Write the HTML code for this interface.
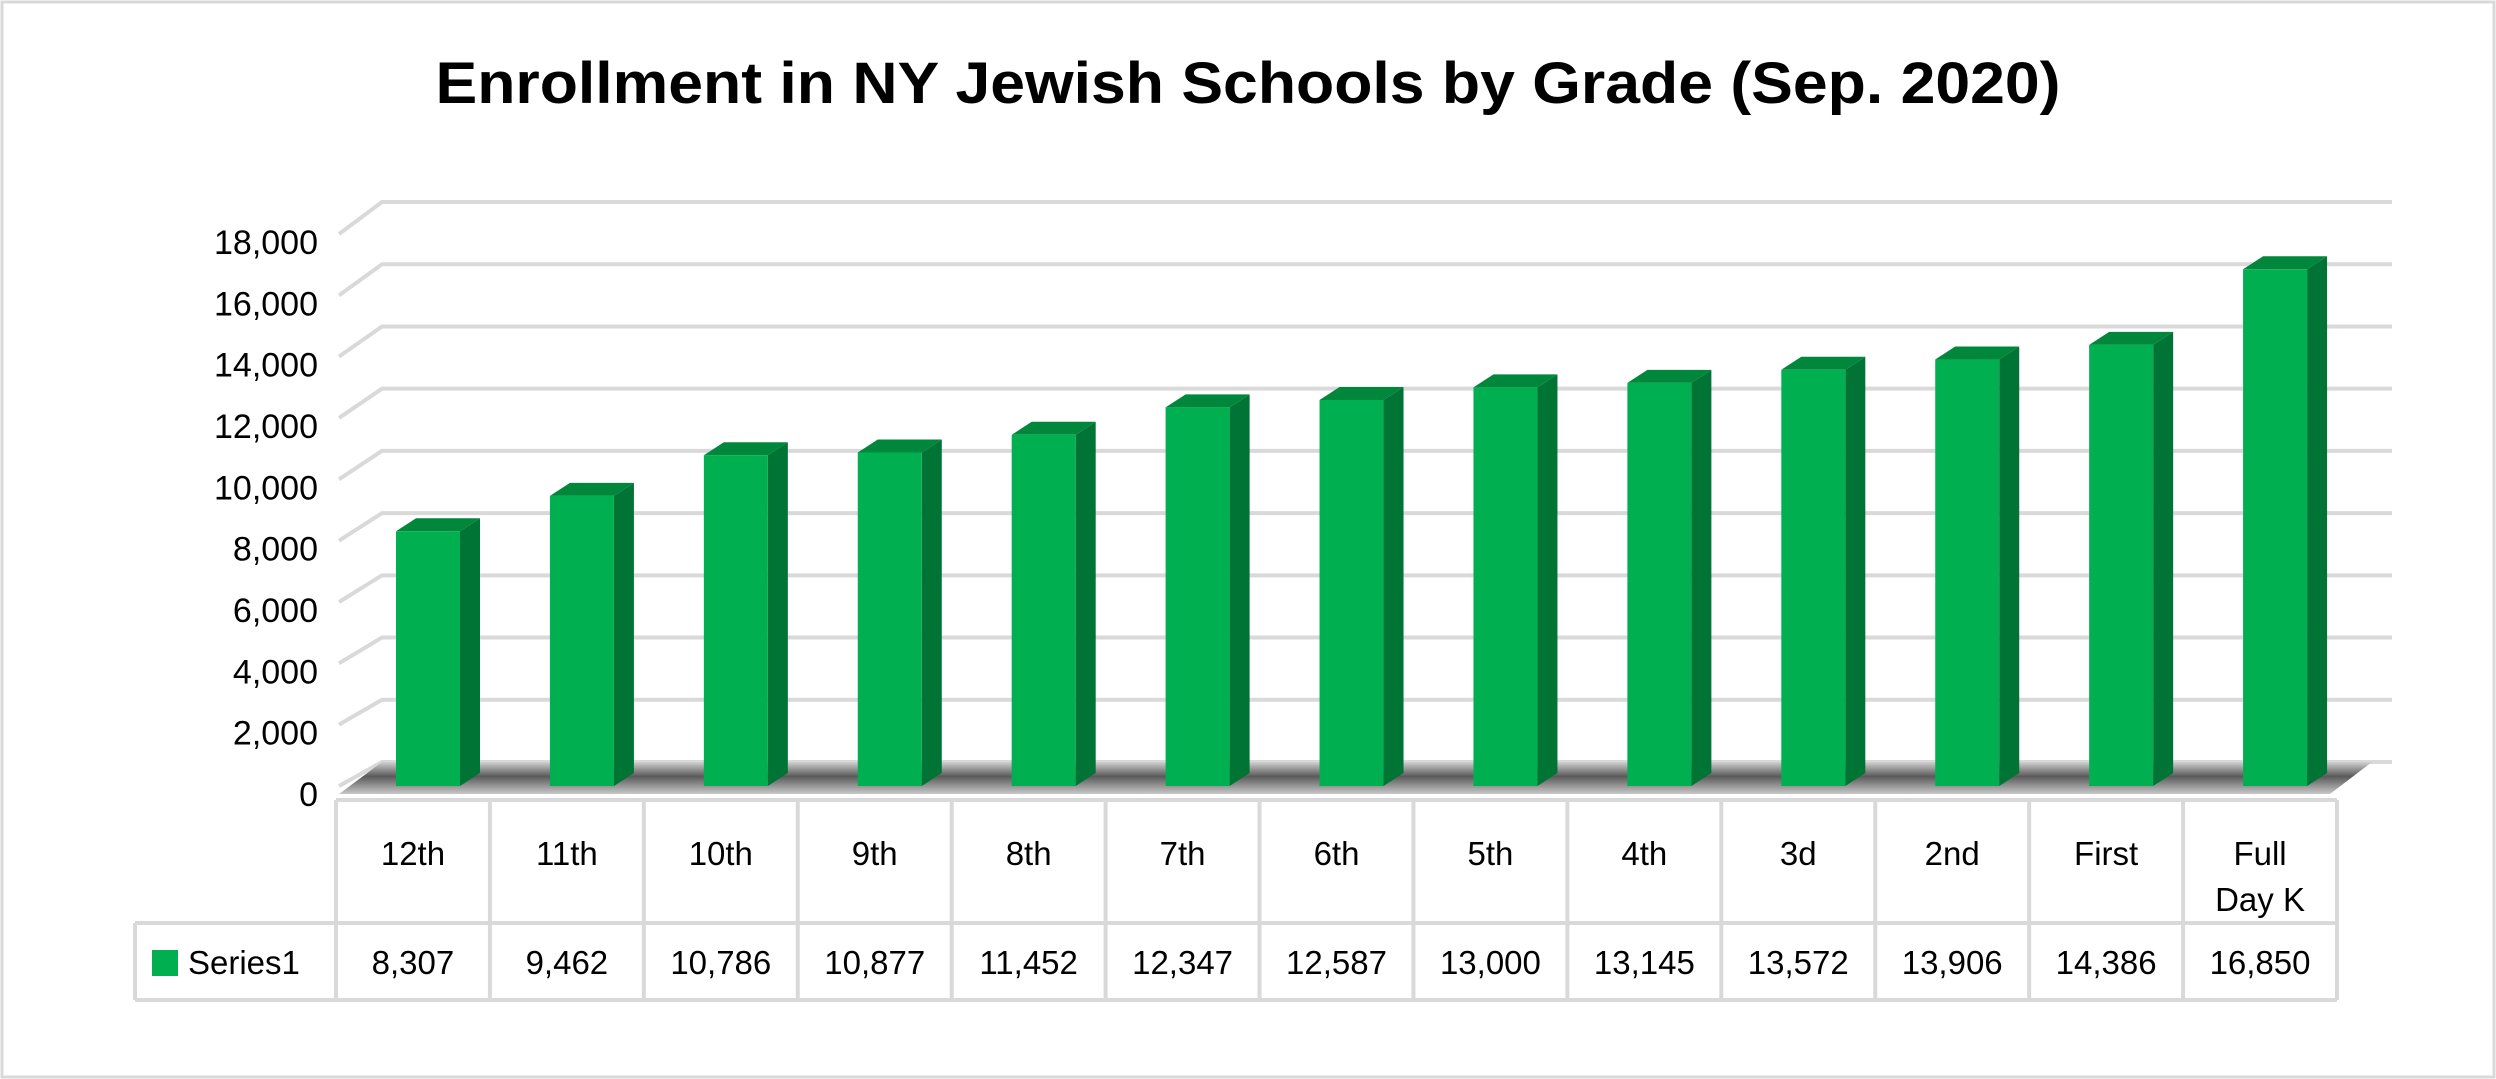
<!DOCTYPE html>
<html><head><meta charset="utf-8"><style>
html,body{margin:0;padding:0;background:#fff;}
svg{display:block;font-family:"Liberation Sans",sans-serif;}
</style></head><body>
<svg id="chart" width="2496" height="1079" viewBox="0 0 2496 1079" xmlns="http://www.w3.org/2000/svg">
<defs>
<linearGradient id="floorGrad" x1="0" y1="0" x2="0" y2="1">
<stop offset="0" stop-color="#d0d0d0"/><stop offset="0.45" stop-color="#5a5a5a"/><stop offset="1" stop-color="#c8c8c8"/>
</linearGradient>
</defs>
<rect x="2" y="2" width="2492" height="1075" fill="#fff" stroke="#d9d9d9" stroke-width="3"/>
<text x="1248" y="103" text-anchor="middle" font-size="58" font-weight="bold" fill="#000" textLength="1625" lengthAdjust="spacingAndGlyphs">Enrollment in NY Jewish Schools by Grade (Sep. 2020)</text>
<g id="grid"></g>
<g id="floor"></g>
<g id="bars"></g>
<g id="yaxis"></g>
<g id="table"></g>
</svg>
<script>
const categories = ["12th","11th","10th","9th","8th","7th","6th","5th","4th","3d","2nd","First","Full Day K"];
const values = [8307,9462,10786,10877,11452,12347,12587,13000,13145,13572,13906,14386,16850];
const valueLabels = ["8,307","9,462","10,786","10,877","11,452","12,347","12,587","13,000","13,145","13,572","13,906","14,386","16,850"];
const yTicks = [0,2000,4000,6000,8000,10000,12000,14000,16000,18000];
const yTickLabels = ["0","2,000","4,000","6,000","8,000","10,000","12,000","14,000","16,000","18,000"];
const seriesName = "Series1";

const NS = "http://www.w3.org/2000/svg";
const yMax = 18000;
const frontY0 = 786, frontY1 = 234;
const backY0 = 762, backY1 = 202;
const tableLeft = 336, tableRight = 2337, colW = (tableRight - tableLeft) / categories.length;
const legendLeft = 135;
function yFront(v){ return frontY0 - (v / yMax) * (frontY0 - frontY1); }
function yBack(v){ return backY0 - (v / yMax) * (backY0 - backY1); }
function xCol(i){ return tableLeft + i * colW; }
function mk(tag, attrs, parent){ const e = document.createElementNS(NS, tag); for (const k in attrs) e.setAttribute(k, attrs[k]); parent.appendChild(e); return e; }

const grid = document.getElementById('grid');
const yaxis = document.getElementById('yaxis');
yTicks.forEach((t, i) => {
  const yb = yBack(t), yf = yFront(t);
  const p = mk('polyline', {points: `339,${yf} 382,${yb} 2392,${yb}`, fill: 'none', stroke: '#d9d9d9', 'stroke-width': 4}, grid);
  
  
  const tx = mk('text', {x: 318, y: yf + 20, 'text-anchor': 'end', 'font-size': 34, fill: '#000'}, yaxis);
  
  
  tx.textContent = yTickLabels[i];
});

const floor = document.getElementById('floor');
const fl = mk('polygon', {points: `339,${frontY0+8} ${382},${backY0} 2372,${backY0} 2330,${frontY0+8}`, fill: 'url(#floorGrad)'}, floor);



const bars = document.getElementById('bars');
const bw = 64, dx = 20, dy = 13;
values.forEach((v, i) => {
  const x = xCol(i) + 60, yt = yFront(v), yb = frontY0;
  const g = mk('g', {}, bars);
  
  
  mk('polygon', {points: `${x+bw},${yt} ${x+bw+dx},${yt-dy} ${x+bw+dx},${yb-dy} ${x+bw},${yb}`, fill: '#007434'}, g);
  mk('polygon', {points: `${x},${yt} ${x+dx},${yt-dy} ${x+bw+dx},${yt-dy} ${x+bw},${yt}`, fill: '#00873c'}, g);
  mk('rect', {x: x, y: yt, width: bw, height: yb - yt, fill: '#00b050'}, g);
});

const table = document.getElementById('table');
const r0 = 800, r1 = 923, r2 = 1000;
const lineStyle = {stroke: '#d9d9d9', 'stroke-width': 4};
let l;
l = mk('line', Object.assign({x1: tableLeft, y1: r0, x2: tableRight, y2: r0}, lineStyle), table);
 
l = mk('line', Object.assign({x1: legendLeft, y1: r1, x2: tableRight, y2: r1}, lineStyle), table);
 
l = mk('line', Object.assign({x1: legendLeft, y1: r2, x2: tableRight, y2: r2}, lineStyle), table);
 
l = mk('line', Object.assign({x1: legendLeft, y1: r1, x2: legendLeft, y2: r2}, lineStyle), table);
 
for (let i = 0; i <= categories.length; i++) {
  l = mk('line', Object.assign({x1: xCol(i), y1: r0, x2: xCol(i), y2: r2}, lineStyle), table);
   
}
categories.forEach((c, i) => {
  const cx = xCol(i) + colW / 2;
  const parts = c === "Full Day K" ? ["Full", "Day K"] : [c];
  parts.forEach((p, j) => {
    const t = mk('text', {x: cx, y: 865 + j * 46, 'text-anchor': 'middle', 'font-size': 33, fill: '#000'}, table);
    
    
    t.textContent = p;
  });
  const vt = mk('text', {x: cx, y: 974, 'text-anchor': 'middle', 'font-size': 33, fill: '#000'}, table);
  
  
  vt.textContent = valueLabels[i];
});
const sw = mk('rect', {x: 152, y: 950, width: 26, height: 26, fill: '#00b050'}, table);


const lt = mk('text', {x: 188, y: 974, 'font-size': 33, fill: '#000'}, table);


lt.textContent = seriesName;
</script>
</body></html>
